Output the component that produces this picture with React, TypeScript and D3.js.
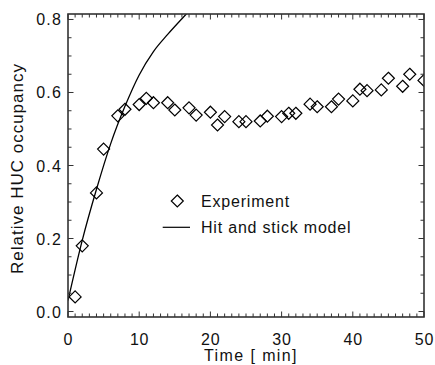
import React, { useRef, useEffect } from "react";
import * as d3 from "d3";

// experiment: time [min] and relative HUC occupancy
const expTime = [1, 2, 4, 5, 7, 8, 10, 11, 12, 14, 15, 17, 18, 20, 21, 22, 24, 25, 27, 28, 30, 31, 32, 34, 35, 37, 38, 40, 41, 42, 44, 45, 47, 48, 50];
const expValue = [
  0.04, 0.18, 0.325, 0.445, 0.536, 0.554, 0.567, 0.584, 0.572, 0.572,
  0.552, 0.558, 0.538, 0.546, 0.511, 0.534, 0.52, 0.52, 0.522, 0.535,
  0.534, 0.543, 0.543, 0.568, 0.561, 0.561, 0.582, 0.577, 0.609, 0.605,
  0.607, 0.639, 0.617, 0.65, 0.633,
];

// hit and stick model curve
const modelTime = [0, 2, 4, 6, 8, 10, 12, 14, 16, 17];
const modelValue = [0.03, 0.195, 0.335, 0.46, 0.562, 0.648, 0.712, 0.759, 0.802, 0.823];

const xTicks = [0, 10, 20, 30, 40, 50];
const yTicks = [0, 0.2, 0.4, 0.6, 0.8];

const FONT = "'Liberation Sans', Arial, Helvetica, sans-serif";

const App = () => {
  const ref = useRef<SVGSVGElement>(null);

  useEffect(() => {
    document.body.style.margin = "0";
    const svg = d3.select(ref.current);
    svg.selectAll("*").remove();

    const left = 68, right = 424, top = 14, bottom = 317;
    const x = d3.scaleLinear().domain([0, 50]).range([left, right]);
    const y = d3.scaleLinear().domain([-0.015, 0.815]).range([bottom, top]);
    const axisColor = "#333";

    svg.append("defs")
      .append("clipPath")
      .attr("id", "plot-clip")
      .append("rect")
      .attr("x", left)
      .attr("y", top)
      .attr("width", right - left)
      .attr("height", bottom - top);

    // model line
    const line = d3
      .line<number>()
      .x((d) => x(d))
      .y((d, i) => y(modelValue[i]))
      .curve(d3.curveMonotoneX);
    svg.append("path")
      .datum(modelTime)
      .attr("clip-path", "url(#plot-clip)")
      .attr("fill", "none")
      .attr("stroke", "#000")
      .attr("stroke-width", 1.3)
      .attr("d", line);

    // diamonds
    const diamond = (cx: number, cy: number, r: number) =>
      `M${cx},${cy - r}L${cx + r},${cy}L${cx},${cy + r}L${cx - r},${cy}Z`;
    svg.append("g")
      .attr("clip-path", "url(#plot-clip)")
      .selectAll("path")
      .data(expTime)
      .enter()
      .append("path")
      .attr("d", (d, i) => diamond(x(d), y(expValue[i]), 6))
      .attr("fill", "none")
      .attr("stroke", "#000")
      .attr("stroke-width", 1.2);

    // frame
    svg.append("rect")
      .attr("x", left)
      .attr("y", top)
      .attr("width", right - left)
      .attr("height", bottom - top)
      .attr("fill", "none")
      .attr("stroke", axisColor)
      .attr("stroke-width", 1.6);

    // ticks
    const ticks = svg.append("g").attr("stroke", axisColor).attr("stroke-width", 1);
    d3.range(0, 51, 1).forEach((t) => {
      const len = t % 10 === 0 ? 5.5 : 3.5;
      ticks.append("line").attr("x1", x(t)).attr("x2", x(t)).attr("y1", bottom).attr("y2", bottom - len);
      ticks.append("line").attr("x1", x(t)).attr("x2", x(t)).attr("y1", top).attr("y2", top + len);
    });
    d3.range(0, 17, 1).map((k) => k * 0.05).forEach((v) => {
      const major = Math.abs(v / 0.2 - Math.round(v / 0.2)) < 1e-6;
      const len = major ? 5.5 : 3.5;
      ticks.append("line").attr("x1", left).attr("x2", left + len).attr("y1", y(v)).attr("y2", y(v));
      ticks.append("line").attr("x1", right).attr("x2", right - len).attr("y1", y(v)).attr("y2", y(v));
    });

    // tick labels
    svg.append("g")
      .selectAll("text")
      .data(xTicks)
      .enter()
      .append("text")
      .attr("x", (d) => x(d) + 0.4)
      .attr("y", 344.5)
      .attr("text-anchor", "middle")
      .attr("font-family", FONT)
      .attr("font-size", 16)
      .attr("letter-spacing", 0.8)
      .attr("fill", "#111")
      .text((d) => String(d));

    svg.append("g")
      .selectAll("text")
      .data(yTicks)
      .enter()
      .append("text")
      .attr("x", 62)
      .attr("y", (d) => y(d) + 6)
      .attr("text-anchor", "end")
      .attr("font-family", FONT)
      .attr("font-size", 16)
      .attr("letter-spacing", 1.2)
      .attr("fill", "#111")
      .text((d) => d3.format(".1f")(d));

    // axis titles
    svg.append("text")
      .attr("x", 251)
      .attr("y", 361.3)
      .attr("text-anchor", "middle")
      .attr("font-family", FONT)
      .attr("font-size", 16)
      .attr("letter-spacing", 1.4)
      .attr("fill", "#111")
      .text("Time [ min]");

    svg.append("text")
      .attr("transform", "translate(22.5,168.5) rotate(-90)")
      .attr("text-anchor", "middle")
      .attr("font-family", FONT)
      .attr("font-size", 17)
      .attr("letter-spacing", 1)
      .attr("fill", "#111")
      .text("Relative HUC occupancy");

    // legend
    const legend = svg.append("g");
    legend.append("path")
      .attr("d", diamond(177.3, 201, 6))
      .attr("fill", "none")
      .attr("stroke", "#000")
      .attr("stroke-width", 1.2);
    legend.append("line")
      .attr("x1", 162.7)
      .attr("x2", 190)
      .attr("y1", 227.3)
      .attr("y2", 227.3)
      .attr("stroke", "#000")
      .attr("stroke-width", 1.2);
    legend.append("text")
      .attr("x", 201)
      .attr("y", 206.5)
      .attr("font-family", FONT)
      .attr("font-size", 16)
      .attr("letter-spacing", 0.8)
      .attr("fill", "#111")
      .text("Experiment");
    legend.append("text")
      .attr("x", 201)
      .attr("y", 233)
      .attr("font-family", FONT)
      .attr("font-size", 16)
      .attr("letter-spacing", 0.8)
      .attr("fill", "#111")
      .text("Hit and stick model");
  }, []);

  return <svg ref={ref} width={435} height={365} style={{ display: "block" }} />;
};

export default App;
